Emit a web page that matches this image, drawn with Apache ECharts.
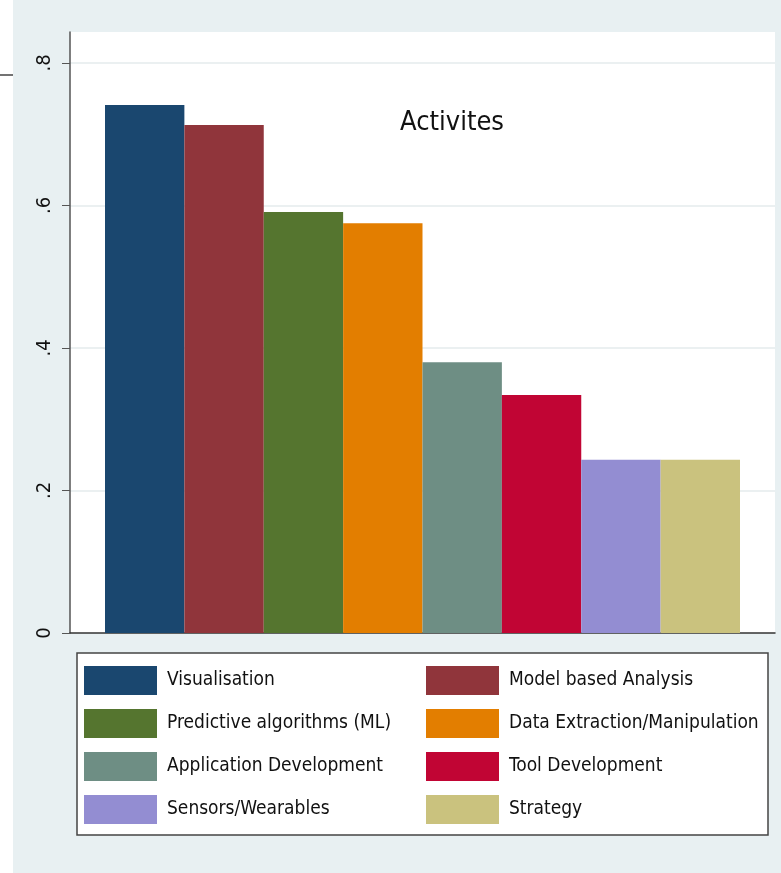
<!DOCTYPE html>
<html>
<head>
    <meta http-equiv="Content-Type" content="text/html; charset=utf-8"/>
    <title>Activites</title>
    <script src="https://cdn.jsdelivr.net/npm/echarts@6/dist/echarts.min.js"></script>
    <style>
        html, body { margin: 0; padding: 0; background: #fff; }
    </style>
</head>
<body>
<div id="main" style="width: 781px;height:873px;"></div>
<script type="text/javascript">
    // data
    var names = ['Visualisation', 'Model based Analysis', 'Predictive algorithms (ML)', 'Data Extraction/Manipulation',
        'Application Development', 'Tool Development', 'Sensors/Wearables', 'Strategy'];
    var values = [0.741, 0.713, 0.591, 0.575, 0.380, 0.334, 0.243, 0.243];
    var colors = ['#1a476f', '#90353b', '#55752f', '#e37e00', '#6e8e84', '#c10534', '#938dd2', '#cac27e'];
    var yTicks = [0, 0.2, 0.4, 0.6, 0.8];

    var font = "'DejaVu Sans Condensed', 'Liberation Sans', sans-serif";

    var myChart = echarts.init(document.getElementById('main'));

    var series = [];
    for (var i = 0; i < names.length; i++) {
        series.push({
            name: names[i],
            type: 'bar',
            barGap: '0%',
            barCategoryGap: '9.93%',
            itemStyle: {color: colors[i]},
            data: [values[i]]
        });
    }

    myChart.setOption({
        backgroundColor: '#e8f0f2',
        animation: false,
        title: {
            text: 'Activites',
            left: 447,
            top: 104,
            textAlign: 'center',
            textStyle: {fontFamily: font, fontSize: 27, fontWeight: 'normal', color: '#111'}
        },
        grid: {
            left: 70,
            right: 6,
            top: 32,
            bottom: 240,
            show: true,
            backgroundColor: '#fff',
            borderWidth: 0
        },
        xAxis: {
            type: 'category',
            data: ['all'],
            axisLine: {lineStyle: {color: '#333', width: 1.5}},
            axisTick: {show: false},
            axisLabel: {show: false}
        },
        yAxis: {
            type: 'value',
            min: 0,
            max: 0.8435,
            interval: 0.2,
            axisLine: {show: true, lineStyle: {color: '#555', width: 1.5}},
            axisTick: {show: true, length: 8, customValues: yTicks, lineStyle: {color: '#555'}},
            axisLabel: {
                customValues: yTicks,
                rotate: 90,
                margin: 15,
                fontFamily: font,
                fontSize: 20,
                color: '#111',
                formatter: function (v) {
                    if (v === 0) return '0';
                    return String(Math.round(v * 10) / 10).replace(/^0/, '');
                }
            },
            splitLine: {show: true, showMinLine: false, lineStyle: {color: '#e4ebed', width: 1.5}}
        },
        legend: [{
            orient: 'vertical',
            left: 79,
            top: 661,
            itemWidth: 73,
            itemHeight: 29,
            itemGap: 14,
            icon: 'rect',
            data: [names[0], names[2], names[4], names[6]],
            textStyle: {fontFamily: font, fontSize: 19, color: '#111', padding: [0, 0, 0, 5]}
        }, {
            orient: 'vertical',
            left: 421,
            top: 661,
            itemWidth: 73,
            itemHeight: 29,
            itemGap: 14,
            icon: 'rect',
            data: [names[1], names[3], names[5], names[7]],
            textStyle: {fontFamily: font, fontSize: 19, color: '#111', padding: [0, 0, 0, 5]}
        }],
        graphic: [
            {type: 'rect', shape: {x: 0, y: 0, width: 13, height: 873}, style: {fill: '#fff'}, silent: true},
            {type: 'line', shape: {x1: 0, y1: 75, x2: 13, y2: 75}, style: {stroke: '#444', lineWidth: 1.5}, silent: true},
            {type: 'rect', shape: {x: 77, y: 653, width: 691, height: 182},
                style: {fill: '#fff', stroke: '#444', lineWidth: 1.5}, silent: true}
        ],
        series: series
    });
</script>
</body>
</html>
